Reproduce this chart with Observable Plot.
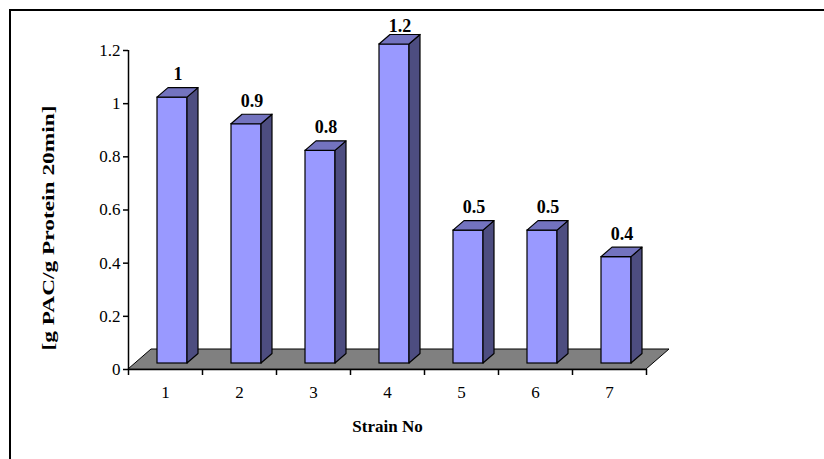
<!DOCTYPE html>
<html>
<head>
<meta charset="utf-8">
<script src="https://cdn.jsdelivr.net/npm/d3@7"></script>
<script src="https://cdn.jsdelivr.net/npm/@observablehq/plot@0.6"></script>
<style>
  html, body { margin: 0; padding: 0; background: #fff; }
  #wrap { position: relative; width: 824px; height: 459px; overflow: hidden; }
  #border { position: absolute; left: 9px; top: 9px; right: -10px; bottom: -10px; border-top: 2px solid #000; border-left: 2px solid #000; pointer-events: none; }
</style>
</head>
<body>
<div id="wrap"><div id="chart"></div><div id="border"></div></div>
<script>
// ---- data ----
const strains = [1, 2, 3, 4, 5, 6, 7];
const values = [1, 0.9, 0.8, 1.2, 0.5, 0.5, 0.4];
const valueLabels = ["1", "0.9", "0.8", "1.2", "0.5", "0.5", "0.4"];
const yTicks = [0, 0.2, 0.4, 0.6, 0.8, 1, 1.2];
const xTitle = "Strain No";
const yTitle = "[g PAC/g Protein 20min]";

// ---- layout ----
const W = 824, H = 459;
const mLeft = 128, mRight = W - 646, mTop = 50, mBottom = H - 369;
const kx = (W - mLeft - mRight) / 7;      // px per strain unit
const ky = (H - mTop - mBottom) / 1.2;    // px per y unit
const ux = p => p / kx, uy = p => p / ky;

// 3D geometry (pixels)
const floorDx = 23, floorDy = 20;
const frontDx = 7, frontDy = 6, halfW = 15;
const depthDx = 11, depthDy = 9.5;

const bars = strains.map((s, i) => ({s, v: values[i], label: valueLabels[i]}));

const floor = [
  {y: 0, x1: 0.5, x2: 7.5},
  {y: uy(floorDy), x1: 0.5 + ux(floorDx), x2: 7.5 + ux(floorDx)}
];
const fronts = bars.map(b => ({
  x1: b.s + ux(frontDx - halfW), x2: b.s + ux(frontDx + halfW),
  y1: uy(frontDy), y2: b.v + uy(frontDy)
}));
const sides = bars.flatMap(b => [
  {z: b.s, x: b.s + ux(frontDx + halfW), y1: uy(frontDy), y2: b.v + uy(frontDy)},
  {z: b.s, x: b.s + ux(frontDx + halfW + depthDx), y1: uy(frontDy + depthDy), y2: b.v + uy(frontDy + depthDy)}
]);
const tops = bars.flatMap(b => [
  {z: b.s, y: b.v + uy(frontDy), x1: b.s + ux(frontDx - halfW), x2: b.s + ux(frontDx + halfW)},
  {z: b.s, y: b.v + uy(frontDy + depthDy), x1: b.s + ux(frontDx - halfW + depthDx), x2: b.s + ux(frontDx + halfW + depthDx)}
]);
const labelMaxY = 1.2 + uy(50 - 31);
const labels = bars.map(b => ({
  x: b.s + ux(frontDx + depthDx / 2),
  y: Math.min(b.v + uy(frontDy + depthDy + 8), labelMaxY),
  text: b.label
}));
const rules = {x: [0.5], y: [0]};

const serif = "'Liberation Serif', 'Times New Roman', serif";

const chart = Plot.plot({
  width: W, height: H,
  marginLeft: mLeft, marginRight: mRight, marginTop: mTop, marginBottom: mBottom,
  style: {fontFamily: serif, fontSize: "16px", background: "transparent", color: "#000"},
  x: {type: "linear", domain: [0.5, 7.5]},
  y: {type: "linear", domain: [0, 1.2]},
  marks: [
    Plot.areaX(floor, {y: "y", x1: "x1", x2: "x2", fill: "#808080", stroke: "#000", strokeWidth: 1}),
    Plot.rect(fronts, {x1: "x1", x2: "x2", y1: "y1", y2: "y2", fill: "#9999FF", stroke: "#000", strokeWidth: 1.2}),
    Plot.areaY(sides, {x: "x", y1: "y1", y2: "y2", z: "z", fill: "#4D4D80", stroke: "#000", strokeWidth: 1.2}),
    Plot.areaX(tops, {y: "y", x1: "x1", x2: "x2", z: "z", fill: "#7373BF", stroke: "#000", strokeWidth: 1.2}),
    Plot.text(labels, {x: "x", y: "y", text: "text", lineAnchor: "bottom", fontWeight: "bold", fontSize: 18, fontFamily: serif}),
    Plot.ruleX(rules.x, {x: d => d, y1: () => 0, y2: () => 1.2, stroke: "#000", strokeWidth: 1.5}),
    Plot.ruleY(rules.y, {y: d => d, x1: () => 0.5, x2: () => 7.5, stroke: "#000", strokeWidth: 1.5}),
    Plot.axisY({ticks: yTicks, tickSize: 5, tickPadding: 3, tickFormat: d => String(d), strokeWidth: 1.5, label: null, fontSize: 17, fontFamily: serif}),
    Plot.axisX({ticks: d3.range(0.5, 8, 1), tickSize: 6, tickFormat: () => "", strokeWidth: 1.5, label: null}),
    Plot.axisX({ticks: strains, tickSize: 0, tickPadding: 16, tickFormat: d => String(d), label: null, fontSize: 17, fontFamily: serif}),
    Plot.text([xTitle], {x: () => 4, frameAnchor: "bottom", dy: 62, fontWeight: "bold", fontSize: 17, fontFamily: serif}),
    Plot.text([yTitle], {frameAnchor: "left", textAnchor: "middle", dx: -80, dy: 18, rotate: -90, fontWeight: "bold", fontSize: 17, fontFamily: serif})
  ]
});
// the reference's vertical axis title is drawn stretched along its length
d3.select(chart).selectAll("text")
  .filter(function() { return this.textContent === yTitle; })
  .attr("textLength", 245)
  .attr("lengthAdjust", "spacingAndGlyphs");
document.getElementById("chart").appendChild(chart);
</script>
</body>
</html>
